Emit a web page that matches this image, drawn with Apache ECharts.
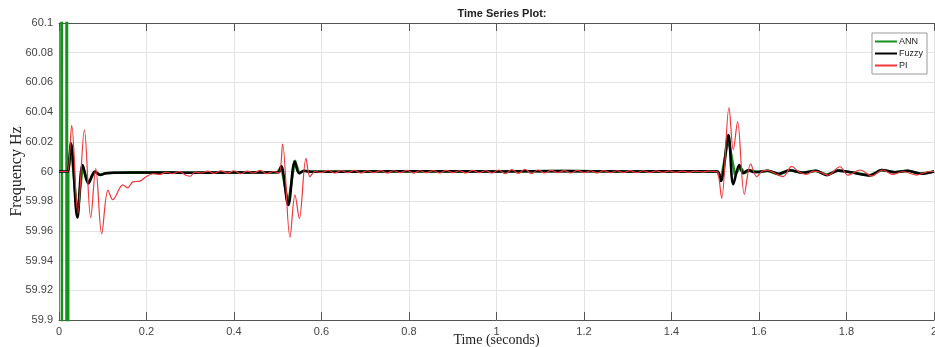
<!DOCTYPE html>
<html>
<head>
<meta charset="utf-8">
<script src="https://cdn.jsdelivr.net/npm/echarts@6/dist/echarts.min.js"></script>
<style>
  html, body { margin: 0; padding: 0; background: #fff; }
  #chart { width: 935px; height: 347px; }
</style>
</head>
<body>
<div id="chart"></div>
<script>
// x ticks (seconds) and y ticks (Hz)
const xTicks = [0, 0.2, 0.4, 0.6, 0.8, 1, 1.2, 1.4, 1.6, 1.8, 2];
const yTicks = [59.9, 59.92, 59.94, 59.96, 59.98, 60, 60.02, 60.04, 60.06, 60.08, 60.1];
const seriesNames = ['ANN', 'Fuzzy', 'PI'];

// ANN: big start-up spike (off scale), then follows Fuzzy closely
const annData = [
  [0, 60], [0.0055, 60], [0.006, 61], [0.0072, 59], [0.0168, 59], [0.0175, 61], [0.0192, 59],
  [0.0212, 60], [0.0274, 60.018], [0.042, 59.970], [0.054, 60.004], [0.067, 59.992],
  [0.082, 60.0], [0.094, 59.9978], [0.107, 59.9988], [0.125, 59.9992], [0.2, 59.9993],
  [0.3, 59.9992], [0.4, 59.9993], [0.5, 59.9995], [0.504, 60.0], [0.508, 60.0035],
  [0.524, 59.978], [0.539, 60.0077], [0.549, 59.9988], [0.56, 60.0005], [0.575, 59.9998],
  [0.7, 60.0], [0.85, 60.0002], [1.0, 60.0], [1.15, 60.0003], [1.3, 60.0], [1.45, 60.0002],
  [1.505, 60.0], [1.513, 59.9945], [1.530, 60.022], [1.545, 59.9976], [1.557, 60.003],
  [1.567, 59.999], [1.58, 60.0008], [1.6, 59.9995], [1.62, 60.0005], [1.645, 59.998],
  [1.67, 60.0008], [1.7, 59.9992], [1.73, 60.0005], [1.755, 59.9978], [1.78, 60.0006],
  [1.81, 59.9995], [1.854, 59.9975], [1.88, 60.001], [1.91, 59.9995], [1.94, 60.0005],
  [1.97, 59.9985], [2, 60.0]
];

const fuzzyData = [
  [0, 60], [0.015, 60], [0.02, 60], [0.0274, 60.019], [0.042, 59.969], [0.054, 60.0044],
  [0.067, 59.992], [0.082, 60.0], [0.094, 59.9976], [0.107, 59.9988], [0.125, 59.9992],
  [0.2, 59.9993], [0.3, 59.9992], [0.4, 59.9993], [0.5, 59.9995], [0.504, 60.0],
  [0.508, 60.0037], [0.524, 59.9774], [0.539, 60.0066], [0.549, 59.9988], [0.56, 60.0005],
  [0.575, 59.9998], [0.7, 60.0], [0.85, 60.0002], [1.0, 60.0], [1.15, 60.0003], [1.3, 60.0],
  [1.45, 60.0002], [1.505, 60.0], [1.513, 59.9936], [1.530, 60.0246], [1.5413, 59.9914],
  [1.555, 60.0044], [1.564, 59.9988], [1.575, 60.0008], [1.59, 59.9995], [1.62, 60.0005],
  [1.645, 59.9985], [1.67, 60.0008], [1.7, 59.9992], [1.73, 60.0005], [1.755, 59.9975],
  [1.78, 60.0006], [1.81, 59.9995], [1.854, 59.9973], [1.88, 60.001], [1.91, 59.9995],
  [1.94, 60.0005], [1.97, 59.9985], [2, 60.0]
];

const piData = [
  [0, 60], [0.015, 60], [0.02, 60], [0.029, 60.031], [0.043, 59.972], [0.058, 60.028],
  [0.0725, 59.969], [0.084, 60.002], [0.0976, 59.958], [0.112, 59.9875], [0.123, 59.981],
  [0.146, 59.991], [0.157, 59.989], [0.169, 59.993], [0.185, 59.9935], [0.199, 59.9965],
  [0.215, 59.9985], [0.23, 59.998], [0.245, 59.9995], [0.26, 59.9985], [0.275, 60.0],
  [0.29, 59.9975], [0.3, 59.9968], [0.31, 59.9995], [0.325, 59.999], [0.34, 60.0003],
  [0.355, 59.9988], [0.37, 60.0005], [0.385, 59.999], [0.4, 60.0005], [0.415, 59.9985],
  [0.43, 60.0003], [0.445, 59.999], [0.46, 60.0008], [0.475, 59.9985], [0.49, 60.0],
  [0.503, 59.999], [0.511, 60.0185], [0.528, 59.9557], [0.5394, 59.9842], [0.5493, 59.9685],
  [0.5646, 60.0089], [0.5737, 59.9965], [0.585, 60.0], [0.6, 59.9993], [0.615, 60.0008],
  [0.63, 59.999], [0.645, 60.0005], [0.66, 59.9992], [0.675, 60.0008], [0.69, 59.999],
  [0.705, 60.0005], [0.72, 59.9992], [0.735, 60.0006], [0.75, 59.999], [0.765, 60.0005],
  [0.78, 59.9992], [0.795, 60.0008], [0.81, 59.999], [0.825, 60.0005], [0.84, 59.9992],
  [0.855, 60.0006], [0.87, 59.999], [0.885, 60.0008], [0.9, 59.9992], [0.915, 60.0005],
  [0.93, 59.999], [0.945, 60.0008], [0.96, 59.9992], [0.975, 60.0005], [0.99, 59.999],
  [1.005, 60.001], [1.02, 59.9985], [1.035, 60.0012], [1.05, 59.9988], [1.065, 60.0015],
  [1.08, 59.9985], [1.095, 60.001], [1.11, 59.999], [1.125, 60.0008], [1.14, 59.9992],
  [1.155, 60.0006], [1.17, 59.999], [1.185, 60.0008], [1.2, 59.9992], [1.215, 60.0005],
  [1.23, 59.999], [1.245, 60.0006], [1.26, 59.9992], [1.275, 60.0005], [1.29, 59.9993],
  [1.305, 60.0006], [1.32, 59.9992], [1.335, 60.0005], [1.35, 59.9993], [1.365, 60.0004],
  [1.38, 59.9994], [1.395, 60.0004], [1.41, 59.9995], [1.425, 60.0003], [1.44, 59.9996],
  [1.455, 60.0003], [1.47, 59.9997], [1.485, 60.0002], [1.5, 60.0], [1.506, 59.9995],
  [1.5147, 59.982], [1.5314, 60.043], [1.5413, 60.0145], [1.551, 60.0335], [1.5665, 59.9846],
  [1.581, 60.005], [1.5947, 59.9965], [1.607, 60.0002], [1.62, 60.0007], [1.635, 59.999],
  [1.655, 59.9965], [1.675, 60.0035], [1.69, 60.0], [1.709, 59.998], [1.724, 60.0003],
  [1.74, 59.9995], [1.758, 59.9976], [1.785, 60.0032], [1.803, 59.9976], [1.831, 60.001],
  [1.858, 59.997], [1.883, 60.001], [1.906, 59.998], [1.929, 60.0], [1.96, 59.9976],
  [1.99, 60.0], [2, 60.0]
];

const chart = echarts.init(document.getElementById('chart'), null, {renderer: 'canvas'});

const sansFont = '"Liberation Sans", Arial, sans-serif';
const serifFont = '"Liberation Serif", "Times New Roman", serif';
const frameColor = '#555';

const fmtY = (v) => String(parseFloat(v.toFixed(2)));
const fmtX = (v) => String(parseFloat(v.toFixed(1)));

chart.setOption({
  animation: false,
  backgroundColor: '#fff',
  title: {
    text: 'Time Series Plot:',
    left: 497,
    top: 3,
    textAlign: 'center',
    textStyle: {fontFamily: sansFont, fontSize: 11, fontWeight: 'bold', color: '#222'}
  },
  legend: {
    data: seriesNames,
    orient: 'vertical',
    left: 872,
    top: 33,
    padding: [3, 4, 3, 3],
    itemGap: 1,
    itemWidth: 22,
    itemHeight: 2,
    icon: 'rect',
    backgroundColor: '#fff',
    borderColor: '#999',
    borderWidth: 1,
    textStyle: {fontFamily: sansFont, fontSize: 9, color: '#222', lineHeight: 11, padding: [0, 0, 0, -3]}
  },
  grid: {left: 59, right: 1, top: 23, bottom: 27, containLabel: false, outerBoundsMode: 'none'},
  xAxis: [{
    type: 'value',
    min: xTicks[0],
    max: xTicks[xTicks.length - 1],
    interval: 0.2,
    name: 'Time (seconds)',
    nameLocation: 'middle',
    nameGap: 13,
    nameMoveOverlap: false,
    nameTextStyle: {fontFamily: serifFont, fontSize: 14, color: '#222'},
    axisLine: {show: true, lineStyle: {color: frameColor, width: 1}},
    axisTick: {show: true, inside: true, length: 8, lineStyle: {color: frameColor}},
    axisLabel: {fontFamily: sansFont, fontSize: 11, color: '#444', margin: 6, formatter: fmtX},
    splitLine: {show: true, lineStyle: {color: '#e3e3e3', width: 1}}
  }, {
    type: 'value',
    position: 'top',
    min: xTicks[0],
    max: xTicks[xTicks.length - 1],
    interval: 0.2,
    axisLine: {show: true, lineStyle: {color: frameColor, width: 1}},
    axisTick: {show: true, inside: true, length: 8, lineStyle: {color: frameColor}},
    axisLabel: {show: false},
    splitLine: {show: false}
  }],
  yAxis: {
    type: 'value',
    min: yTicks[0],
    max: yTicks[yTicks.length - 1],
    interval: 0.02,
    name: 'Frequency Hz',
    nameLocation: 'middle',
    nameGap: 34,
    nameMoveOverlap: false,
    nameTextStyle: {fontFamily: serifFont, fontSize: 16, color: '#222'},
    axisLine: {show: true, lineStyle: {color: '#7a7f8a', width: 1}},
    axisTick: {show: false},
    axisLabel: {fontFamily: sansFont, fontSize: 11, color: '#444', margin: 6, formatter: fmtY},
    splitLine: {show: true, lineStyle: {color: '#e3e3e3', width: 1}}
  },
  series: [{
    name: 'ANN',
    type: 'line',
    data: annData,
    showSymbol: false,
    smooth: false,
    color: '#17901c',
    lineStyle: {width: 2.5, color: '#17901c'},
    clip: true
  }, {
    name: 'Fuzzy',
    type: 'line',
    data: fuzzyData,
    showSymbol: false,
    smooth: 0.35,
    color: '#000',
    lineStyle: {width: 2.6, color: '#000'}
  }, {
    name: 'PI',
    type: 'line',
    data: piData,
    showSymbol: false,
    smooth: 0.35,
    color: '#f0373a',
    lineStyle: {width: 1.2, color: '#f0373a'}
  }]
});
</script>
</body>
</html>
